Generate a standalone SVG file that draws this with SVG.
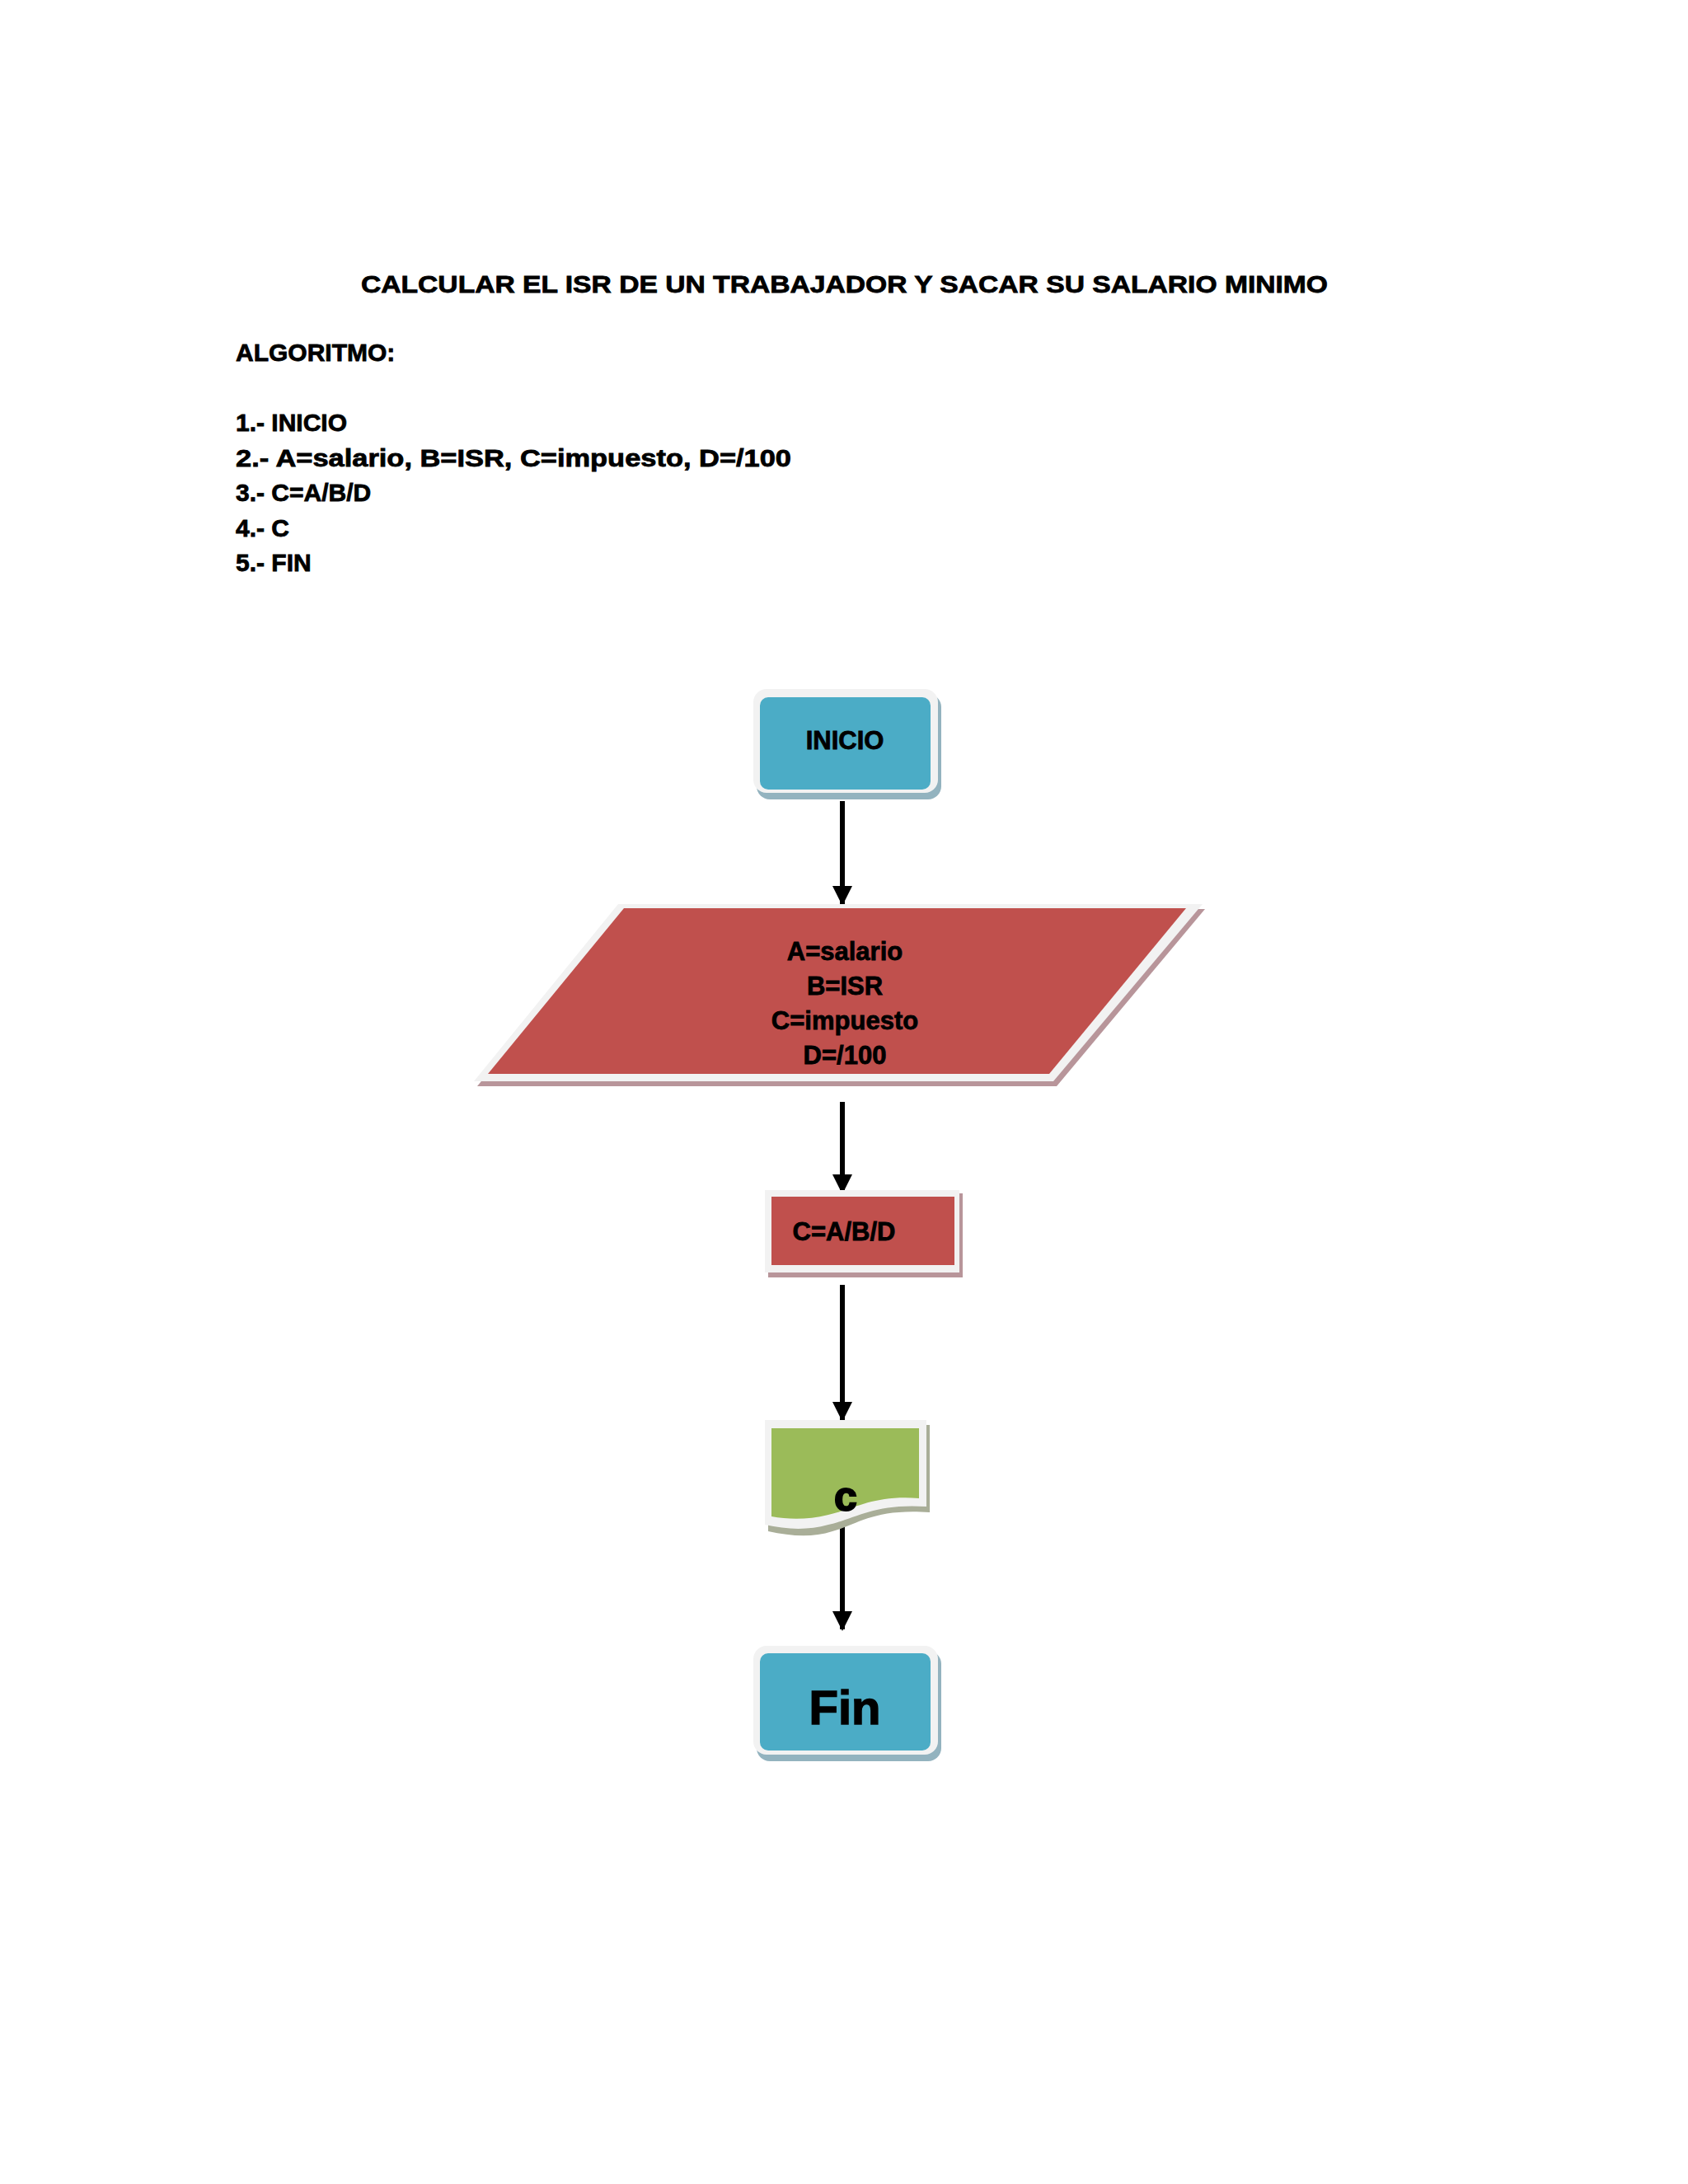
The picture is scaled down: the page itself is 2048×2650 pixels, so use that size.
<svg xmlns="http://www.w3.org/2000/svg" width="2048" height="2650" viewBox="0 0 2048 2650">
<style>
text{font-family:"Liberation Sans",Arial,sans-serif;font-weight:bold;fill:#000;stroke:#000;stroke-width:0.8}
.h{font-size:30px}
.n{font-size:31px;text-anchor:middle}
.edge{stroke:#000;stroke-width:6;fill:none;marker-end:url(#ah)}
.wb{fill:#f2f2f2}
</style>
<defs>
<marker id="ah" markerUnits="userSpaceOnUse" markerWidth="24" markerHeight="26" refX="22" refY="12" orient="auto">
<path d="M0,0 L24,12 L0,24 Z" fill="#000"/>
</marker>
</defs>
<rect width="2048" height="2650" fill="#fff"/>
<g id="header">
<text class="h" x="438" y="355" textLength="1173" lengthAdjust="spacingAndGlyphs">CALCULAR EL ISR DE UN TRABAJADOR Y SACAR SU SALARIO MINIMO</text>
<text class="h" x="286" y="438">ALGORITMO:</text>
<text class="h" x="286" y="523">1.- INICIO</text>
<text class="h" x="286" y="566" textLength="674" lengthAdjust="spacingAndGlyphs">2.- A=salario, B=ISR, C=impuesto, D=/100</text>
<text class="h" x="286" y="608">3.- C=A/B/D</text>
<text class="h" x="286" y="651">4.- C</text>
<text class="h" x="286" y="693">5.- FIN</text>
</g>
<g id="connectors">
<line class="edge" x1="1022" y1="972" x2="1022" y2="1097"/>
<line class="edge" x1="1022" y1="1337" x2="1022" y2="1447"/>
<line class="edge" x1="1022" y1="1559" x2="1022" y2="1723"/>
<line class="edge" x1="1022" y1="1850" x2="1022" y2="1977"/>
</g>
<g id="inicio">
<rect x="918" y="842" width="224" height="128" rx="16" fill="#93b3bf"/>
<rect x="914" y="836" width="224" height="126" rx="16" class="wb"/>
<rect x="922" y="846" width="207" height="112" rx="10" fill="#4bacc6"/>
<text class="n" x="1025" y="909">INICIO</text>
</g>
<g id="datos">
<polygon points="754,1103 1462,1103 1282,1318 579,1318" fill="#b8959a"/>
<polygon points="750,1097 1459,1097 1278,1312 575,1312" class="wb"/>
<polygon points="757,1102 1439,1102 1273,1303 592,1303" fill="#c0504d"/>
<text class="n" x="1025" y="1165">A=salario</text>
<text class="n" x="1025" y="1207">B=ISR</text>
<text class="n" x="1025" y="1249">C=impuesto</text>
<text class="n" x="1025" y="1291">D=/100</text>
</g>
<g id="proceso">
<rect x="932" y="1448" width="236" height="102" fill="#b8959a"/>
<rect x="928" y="1444" width="236" height="100" class="wb"/>
<rect x="936" y="1452" width="222" height="83" fill="#c0504d"/>
<text class="n" x="1024" y="1505">C=A/B/D</text>
</g>
<g id="salida">
<path d="M932,1729 L1128,1729 L1128,1835 C1060,1830 1040,1850 1010,1858 C985,1866 960,1864 932,1858 Z" fill="#a9ae98"/>
<path d="M928,1723 L1124,1723 L1124,1828 C1060,1824 1040,1842 1005,1850 C980,1857 955,1856 928,1850 Z" class="wb"/>
<path d="M936,1733 L1115,1733 L1115,1818 C1060,1814 1040,1830 1005,1838 C980,1844 958,1844 936,1840 Z" fill="#9bbb59"/>
<text x="1026" y="1833" style="font-size:50px;text-anchor:middle;stroke-width:2">c</text>
</g>
<g id="fin">
<rect x="918" y="2003" width="224" height="134" rx="16" fill="#93b3bf"/>
<rect x="914" y="1997" width="224" height="132" rx="16" class="wb"/>
<rect x="922" y="2006" width="207" height="118" rx="10" fill="#4bacc6"/>
<text x="1025" y="2092" style="font-size:58px;text-anchor:middle;stroke-width:1.5">Fin</text>
</g>
</svg>
